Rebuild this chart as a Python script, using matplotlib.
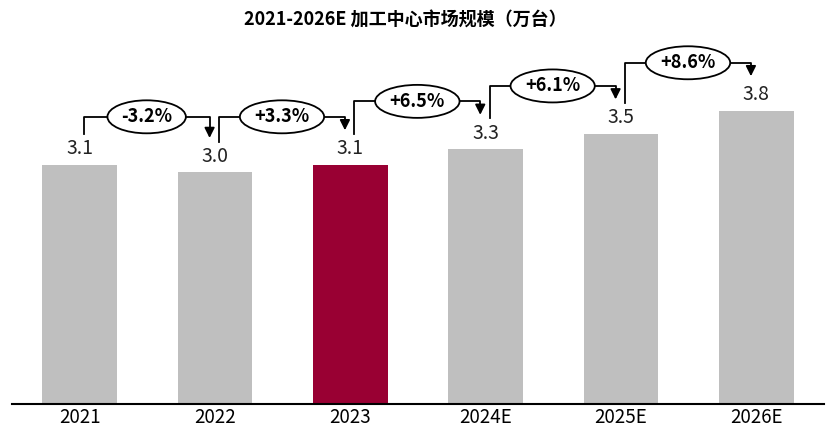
import matplotlib.pyplot as plt
import numpy as np

plt.rcParams['font.family'] = ['Noto Sans CJK SC', 'DejaVu Sans']

years = ['2021', '2022', '2023', '2024E', '2025E', '2026E']
values = [3.1, 3.0, 3.1, 3.3, 3.5, 3.8]
growth = ['-3.2%', '+3.3%', '+6.5%', '+6.1%', '+8.6%']
colors = ['#BFBFBF', '#BFBFBF', '#990033', '#BFBFBF', '#BFBFBF', '#BFBFBF']

fig = plt.figure(figsize=(8.31, 4.29), dpi=100)
ax = fig.add_axes([12 / 831, 25 / 429, 812 / 831, 364 / 429])

x = np.arange(len(years))
ax.bar(x, values, width=0.55, color=colors)
ax.set_xlim(-0.5, 5.5)
ax.set_ylim(0, 4.715)

for xi, v in zip(x, values):
    ax.text(xi, v + 0.07, f'{v:.1f}', ha='center', va='bottom', fontsize=14, color='#222222')

# growth brackets
for i, g in enumerate(growth):
    v0, v1 = values[i], values[i + 1]
    x0, x1 = x[i] + 0.03, x[i + 1] - 0.04
    top = max(v0, v1) + 0.62
    ax.plot([x0, x0, x1, x1], [v0 + 0.4, top, top, v1 + 0.5], color='black', lw=1.3)
    ax.annotate('', xy=(x1, v1 + 0.41), xytext=(x1, v1 + 0.58),
                arrowprops=dict(arrowstyle='-|>', color='black', lw=1.3, mutation_scale=15))
    ax.text((x0 + x1) / 2, top, g, ha='center', va='center', fontsize=13, fontweight='bold',
            bbox=dict(boxstyle='ellipse,pad=0.12', fc='white', ec='black', lw=1.3))

ax.set_xticks(x)
ax.set_xticklabels(years, fontsize=13.5)
ax.tick_params(axis='x', length=0, pad=2)
ax.set_yticks([])
for s in ['left', 'right', 'top']:
    ax.spines[s].set_visible(False)
ax.spines['bottom'].set_linewidth(1.5)

fig.text(405 / 831, 1 - 20 / 429, '2021-2026E 加工中心市场规模（万台）', ha='center', va='center',
         fontsize=13, fontweight='bold')

fig.savefig('out.png', dpi=100)
